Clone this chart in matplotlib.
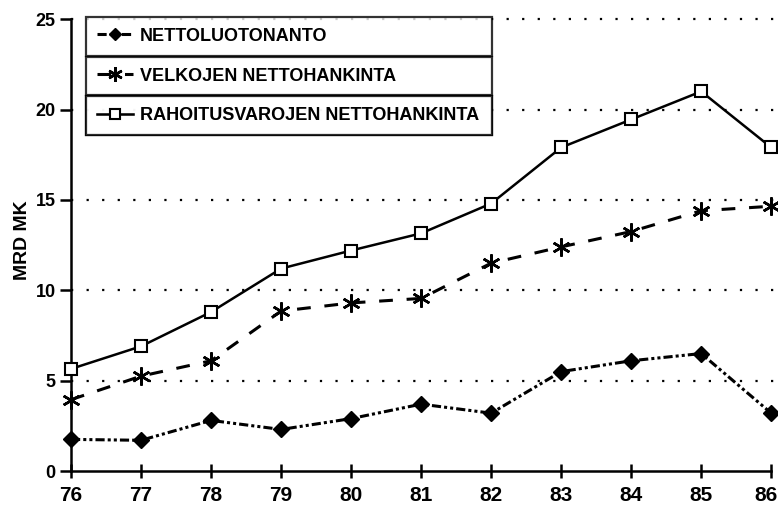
import matplotlib.pyplot as plt
from matplotlib.transforms import ScaledTranslation

# Data (MRD MK)
years = [76, 77, 78, 79, 80, 81, 82, 83, 84, 85, 86]
nettoluotonanto = [1.75, 1.7, 2.8, 2.3, 2.9, 3.7, 3.2, 5.5, 6.1, 6.5, 3.2]
velkojen = [3.95, 5.25, 6.1, 8.85, 9.3, 9.55, 11.5, 12.4, 13.25, 14.4, 14.65]
rahoitusvarojen = [5.65, 6.9, 8.8, 11.2, 12.2, 13.15, 14.8, 17.9, 19.45, 21.0, 17.9]
labels = ["NETTOLUOTONANTO", "VELKOJEN NETTOHANKINTA", "RAHOITUSVAROJEN NETTOHANKINTA"]

font = dict(family="Liberation Sans", weight="bold")

fig = plt.figure(figsize=(7.78, 5.18), dpi=100)
ax = fig.add_axes([0.0913, 0.0907, 0.9, 0.8723])

# dotted grid lines, running to the right edge
for y in [5, 10, 15, 20, 25]:
    ax.axhline(y, xmax=1.01, color="black", linestyle=(0, (1, 6)),
               linewidth=1.6, zorder=1, clip_on=False)

l1, = ax.plot(years, nettoluotonanto, color="black", linewidth=2.2,
              linestyle=(0, (3, 1, 1, 1, 1, 1)), marker="D", markersize=8,
              markerfacecolor="black", clip_on=False, zorder=3)
l2, = ax.plot(years, velkojen, color="black", linewidth=2.2,
              linestyle=(0, (4.5, 4.5)), marker=(6, 2, 0), markersize=13,
              markeredgewidth=1.8, clip_on=False, zorder=3)
l3, = ax.plot(years, rahoitusvarojen, color="black", linewidth=1.8,
              linestyle="-", marker="s", markersize=9, markerfacecolor="white",
              markeredgewidth=1.5, clip_on=False, zorder=3)

ax.set_xlim(76, 86)
ax.set_ylim(0, 25)
ax.set_xticks(years)
ax.set_yticks([0, 5, 10, 15, 20, 25])
ax.spines["top"].set_visible(False)
ax.spines["right"].set_visible(False)
ax.spines["left"].set_linewidth(1.8)
ax.spines["bottom"].set_linewidth(1.8)
ax.tick_params(axis="y", direction="out", length=8, width=1.8, pad=3)
ax.tick_params(axis="x", direction="inout", length=10, width=1.8, pad=6)
for lab in ax.get_xticklabels():
    lab.set_fontproperties(dict(font, size=15))
for lab in ax.get_yticklabels():
    lab.set_fontproperties(dict(font, size=13))
# keep the last year label inside the figure
last = ax.get_xticklabels()[-1]
last.set_transform(last.get_transform() + ScaledTranslation(-4 / 72, 0, fig.dpi_scale_trans))
ax.set_ylabel("MRD MK", fontsize=14, **font)
ax.yaxis.set_label_coords(-0.057, 0.51)

# three stacked legend boxes
x0 = 0.021
w = 0.58
h = 0.088
top = 1.005
for i, (line, text) in enumerate(zip([l1, l2, l3], labels)):
    leg = ax.legend([line], [text], loc="upper left", mode="expand",
                    bbox_to_anchor=(x0, top - (i + 1) * h, w, h),
                    borderaxespad=0, frameon=True, fancybox=False,
                    handlelength=2.0, handletextpad=0.4, borderpad=0.6,
                    prop=dict(font, size=13), markerscale=0.8)
    leg.get_frame().set_edgecolor("black")
    leg.get_frame().set_linewidth(1.6)
    leg.set_zorder(5)
    ax.add_artist(leg)

fig.savefig("out.png", dpi=100)
